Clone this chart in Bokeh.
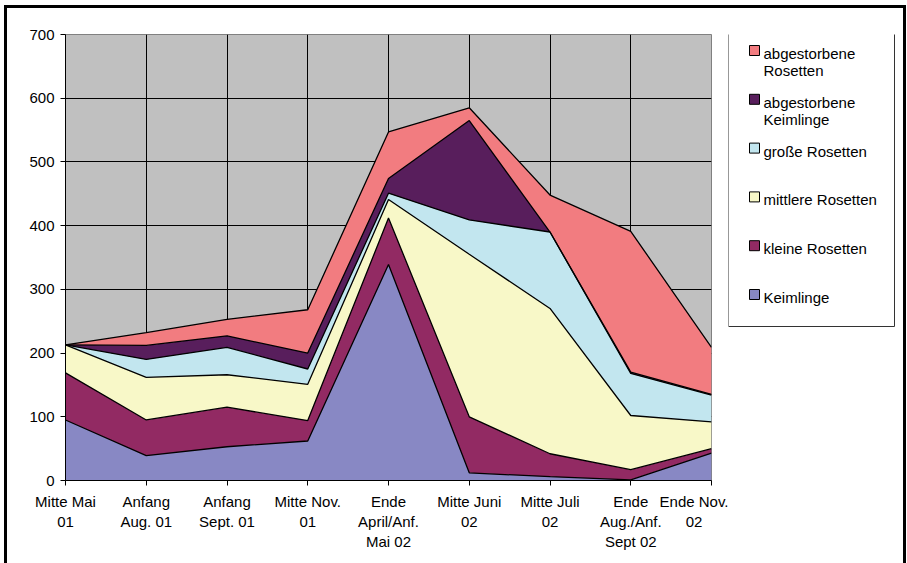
from bokeh.plotting import figure
from bokeh.layouts import row
from bokeh.models import Range1d, FixedTicker, ColumnDataSource
from bokeh.core.properties import value
from bokeh.embed import file_html
from bokeh.resources import INLINE

# ---------------- data ----------------
categories = ["Mitte Mai\n01", "Anfang\nAug. 01", "Anfang\nSept. 01", "Mitte Nov.\n01",
              "Ende\nApril/Anf.\nMai 02", "Mitte Juni\n02", "Mitte Juli\n02",
              "Ende\nAug./Anf.\nSept 02", "Ende Nov.\n02"]
keimlinge = [95, 39, 53, 62, 339, 12, 6, 1, 43]
kleine_rosetten = [74, 56, 62, 32, 73, 88, 36, 16, 7]
mittlere_rosetten = [44, 67, 51, 57, 29, 255, 228, 85, 42]
grosse_rosetten = [0, 28, 43, 24, 10, 54, 120, 66, 42]
abgestorbene_keimlinge = [0, 22, 18, 25, 23, 156, 0, 2, 1]
abgestorbene_rosetten = [0, 20, 26, 68, 73, 20, 58, 221, 74]

series_keys = ["keimlinge", "kleine", "mittlere", "grosse", "abg_keim", "abg_ros"]
series_labels = ["Keimlinge", "kleine Rosetten", "mittlere Rosetten", "große Rosetten",
                 "abgestorbene\nKeimlinge", "abgestorbene\nRosetten"]
colors = ["#8888C4", "#922A63", "#F8F8C8", "#C2E6EF", "#581E5C", "#F27C80"]
y_ticks = [0, 100, 200, 300, 400, 500, 600, 700]

x = list(range(len(categories)))
source = ColumnDataSource(dict(
    x=x,
    keimlinge=keimlinge,
    kleine=kleine_rosetten,
    mittlere=mittlere_rosetten,
    grosse=grosse_rosetten,
    abg_keim=abgestorbene_keimlinge,
    abg_ros=abgestorbene_rosetten,
))

FONT = "Liberation Sans"

# fixed layout heights (bottom border large enough to hold the 3-line tick labels)
TOP, FRAME_H, BOTTOM = 34, 446, 200
TOTAL_H = TOP + FRAME_H + BOTTOM
LEG_SHIFT = 35   # vertical offset the row layout adds to the legend panel

# ---------------- main chart ----------------
p = figure(title=None, frame_width=646, frame_height=FRAME_H,
           min_border_left=65, min_border_right=17, min_border_top=TOP, min_border_bottom=BOTTOM,
           x_range=Range1d(0, len(categories) - 1), y_range=Range1d(0, 700),
           output_backend="svg", toolbar_location=None, align="start")

p.background_fill_color = "#C0C0C0"
p.border_fill_color = "white"
p.outline_line_color = "#808080"
p.outline_line_width = 1

p.xgrid.ticker = FixedTicker(ticks=x)
p.ygrid.ticker = FixedTicker(ticks=y_ticks)
for g in (p.xgrid, p.ygrid):
    g.grid_line_color = "black"
    g.grid_line_width = 1
    g.grid_line_alpha = 1

p.xaxis.ticker = FixedTicker(ticks=x)
p.xaxis.major_label_overrides = {i: c for i, c in zip(x, categories)}
p.yaxis.ticker = FixedTicker(ticks=y_ticks)
for ax in (p.xaxis, p.yaxis):
    ax.axis_line_color = "black"
    ax.axis_line_width = 1
    ax.major_tick_line_color = "black"
    ax.major_tick_out = 5
    ax.major_tick_in = 0
    ax.minor_tick_line_color = None
    ax.major_label_text_font = FONT
    ax.major_label_text_font_size = "15px"
    ax.major_label_text_color = "black"
p.yaxis.major_label_standoff = 6
p.xaxis.major_label_standoff = 7

p.varea_stack(stackers=series_keys, x="x", color=colors, source=source)
p.vline_stack(stackers=series_keys, x="x", color="black", line_width=1.3, source=source)

# ---------------- legend panel ----------------
LEG_W = 178
leg = figure(title=None, frame_width=LEG_W, frame_height=TOTAL_H,
             min_border_left=0, min_border_right=0, min_border_top=0, min_border_bottom=0,
             x_range=Range1d(728, 728 + LEG_W),
             y_range=Range1d(TOTAL_H + LEG_SHIFT, LEG_SHIFT),
             x_axis_type=None, y_axis_type=None,
             output_backend="svg", toolbar_location=None, align="start")
leg.min_border = 0
leg.background_fill_color = "white"
leg.border_fill_color = "white"
leg.outline_line_color = None

# legend box
leg.quad(left=[728], right=[894], top=[33], bottom=[327],
         fill_color="white", line_color="#333333", line_width=1)

pitch = 48.8
order = list(range(len(series_keys)))[::-1]   # top entry = top of stack
sq_left, sq_right, sq_top, sq_bottom, sq_color = [], [], [], [], []
tx, ty, tt = [], [], []
for i, si in enumerate(order):
    top = 46 + pitch * i
    sq_left.append(749); sq_right.append(759)
    sq_top.append(top); sq_bottom.append(top + 10)
    sq_color.append(colors[si])
    for j, line in enumerate(series_labels[si].split("\n")):
        tx.append(763); ty.append(top + 8 + 17 * j); tt.append(line)

leg.quad(left=sq_left, right=sq_right, top=sq_top, bottom=sq_bottom,
         fill_color=sq_color, line_color="black", line_width=1)
leg.text(x=tx, y=ty, text=tt, text_font=value(FONT), text_font_size="15px",
         text_color="black", text_baseline="alphabetic", text_align="left")

border_css = """
:host { position: relative; }
:host::after {
  content: "";
  position: absolute;
  left: 4px; top: 5px; width: 902px; height: 558px;
  box-sizing: border-box;
  border-top: 3px solid black; border-left: 3px solid black; border-right: 3px solid black;
  pointer-events: none; z-index: 100;
}
"""
layout = row(p, leg, stylesheets=[border_css], align="start")

open("out.html", "w").write(file_html(layout, INLINE))
